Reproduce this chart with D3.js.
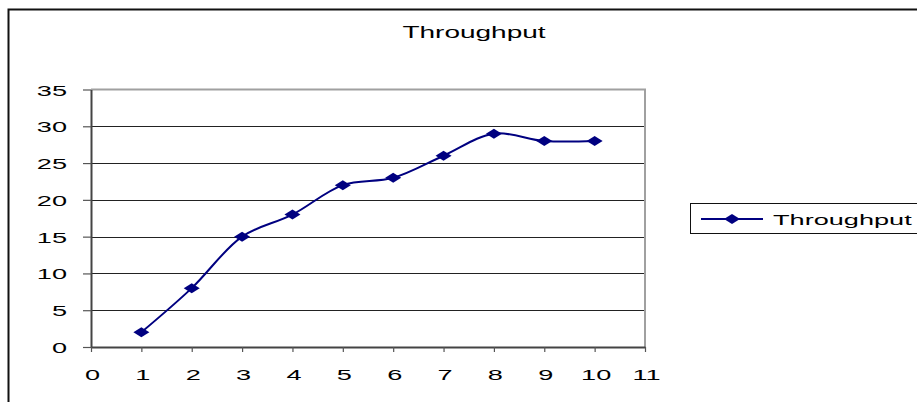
<!DOCTYPE html>
<html>
<head>
<meta charset="utf-8">
<script src="https://cdn.jsdelivr.net/npm/d3@7"></script>
<style>
  html, body { margin: 0; padding: 0; background: #fff; }
  svg { display: block; }
  text { font-family: "Liberation Sans", Arial, sans-serif; fill: #000; }
</style>
</head>
<body>
<svg id="chart" width="917" height="402"></svg>
<script>
// Data
const runs = [1, 2, 3, 4, 5, 6, 7, 8, 9, 10];
const throughput = [2, 8, 15, 18, 22, 23, 26, 29, 28, 28];
const xTickValues = [0, 1, 2, 3, 4, 5, 6, 7, 8, 9, 10, 11];
const yTickValues = [0, 5, 10, 15, 20, 25, 30, 35];
const chartTitle = "Throughput";
const seriesName = "Throughput";

const svg = d3.select("#chart");
const stretch = 1.75;           // wide, condensed-height text look
const fontSize = 15.5;
const navy = "#000080";

const plot = { left: 91, right: 645, top: 89.5, bottom: 347 };

const x = d3.scaleLinear().domain([0, 11]).range([plot.left, plot.right]);
const y = d3.scaleLinear().domain([0, 35]).range([plot.bottom, plot.top]);

// Outer chart frame (runs off the right and bottom edges)
svg.append("rect")
  .attr("x", 8.5).attr("y", 9.5)
  .attr("width", 1000).attr("height", 500)
  .attr("fill", "#fff").attr("stroke", "#111").attr("stroke-width", 2);

// Title
svg.append("text")
  .attr("transform", `translate(${474},${37.5}) scale(${stretch},1)`)
  .attr("text-anchor", "middle")
  .style("font-size", fontSize + 0.5 + "px")
  .text(chartTitle);

// Horizontal gridlines
svg.append("g")
  .selectAll("line")
  .data(yTickValues.filter(v => v > 0 && v < 35))
  .join("line")
  .attr("x1", plot.left).attr("x2", plot.right)
  .attr("y1", d => Math.round(y(d)) + 0.5).attr("y2", d => Math.round(y(d)) + 0.5)
  .attr("stroke", "#222").attr("stroke-width", 1);

// Plot-area border: top and right in grey
svg.append("path")
  .attr("d", `M${plot.left},${plot.top}H${plot.right}V${plot.bottom}`)
  .attr("fill", "none").attr("stroke", "#a0a0a0").attr("stroke-width", 2);

// Y axis
const yAxis = d3.axisLeft(y).tickValues(yTickValues).tickSize(8).tickSizeOuter(0).tickPadding(0);
const gy = svg.append("g").attr("transform", `translate(${plot.left},0)`).call(yAxis);
gy.select(".domain").attr("stroke", "#444").attr("stroke-width", 2);
gy.selectAll(".tick line").attr("stroke", "#555").attr("stroke-width", 1.2);
gy.selectAll(".tick text")
  .attr("x", null).attr("dy", null)
  .attr("transform", `translate(-24,5.5) scale(${stretch},1)`)
  .attr("text-anchor", "end")
  .style("font-size", fontSize + "px")
  .style("font-family", '"Liberation Sans", Arial, sans-serif')
  .attr("fill", "#000");

// X axis
const xAxis = d3.axisBottom(x).tickValues(xTickValues).tickSize(5).tickSizeOuter(0).tickPadding(0);
const gx = svg.append("g").attr("transform", `translate(0,${plot.bottom})`).call(xAxis);
gx.select(".domain").attr("stroke", "#444").attr("stroke-width", 2);
gx.selectAll(".tick line").attr("stroke", "#555").attr("stroke-width", 1.2);
gx.selectAll(".tick text")
  .attr("y", null).attr("dy", null)
  .attr("transform", `translate(1,33) scale(${stretch},1)`)
  .attr("text-anchor", "middle")
  .style("font-size", fontSize + "px")
  .style("font-family", '"Liberation Sans", Arial, sans-serif')
  .attr("fill", "#000");

// Smoothed series line
const line = d3.line()
  .x((d, i) => x(runs[i]))
  .y(d => y(d))
  .curve(d3.curveCatmullRom.alpha(0.5));

svg.append("path")
  .datum(throughput)
  .attr("d", line)
  .attr("fill", "none")
  .attr("stroke", navy)
  .attr("stroke-width", 2);

// Diamond markers
const diamond = (w, h) => `M0,${-h / 2}L${w / 2},0L0,${h / 2}L${-w / 2},0Z`;
svg.append("g")
  .selectAll("path")
  .data(throughput)
  .join("path")
  .attr("transform", (d, i) => `translate(${x(runs[i])},${y(d)})`)
  .attr("d", diamond(16, 10))
  .attr("fill", navy);

// Legend
const legend = svg.append("g");
legend.append("rect")
  .attr("x", 690.5).attr("y", 203.5)
  .attr("width", 300).attr("height", 30)
  .attr("fill", "#fff").attr("stroke", "#111").attr("stroke-width", 1);
legend.append("line")
  .attr("x1", 701).attr("x2", 763)
  .attr("y1", 219).attr("y2", 219)
  .attr("stroke", navy).attr("stroke-width", 2);
legend.append("path")
  .attr("transform", "translate(732,219)")
  .attr("d", diamond(16, 10))
  .attr("fill", navy);
legend.append("text")
  .attr("transform", `translate(773,224.5) scale(${stretch},1)`)
  .style("font-size", fontSize + "px")
  .text(seriesName);
</script>
</body>
</html>
